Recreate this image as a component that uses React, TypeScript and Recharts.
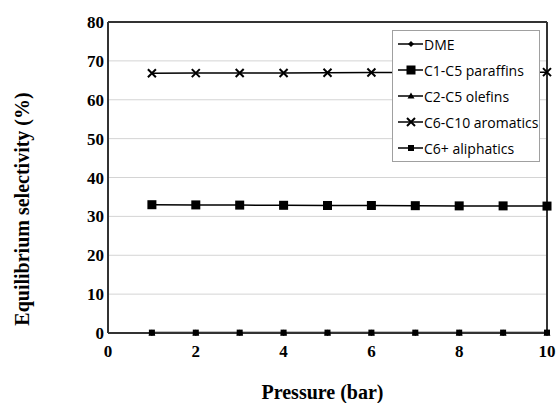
import React from 'react';
import { LineChart, Line, XAxis, YAxis, CartesianGrid, ReferenceLine } from 'recharts';

const pressure = [1, 2, 3, 4, 5, 6, 7, 8, 9, 10];
const dme = [0, 0, 0, 0, 0, 0, 0, 0, 0, 0];
const paraffins = [33.0, 32.95, 32.9, 32.85, 32.8, 32.8, 32.75, 32.7, 32.7, 32.65];
const olefins = [0, 0, 0, 0, 0, 0, 0, 0, 0, 0];
const aromatics = [66.8, 66.85, 66.9, 66.9, 66.95, 67.0, 67.0, 67.05, 67.1, 67.1];
const aliphatics = [0.1, 0.1, 0.1, 0.1, 0.1, 0.1, 0.1, 0.1, 0.1, 0.1];

const xTicks = [0, 2, 4, 6, 8, 10];
const yTicks = [0, 10, 20, 30, 40, 50, 60, 70, 80];

const data = pressure.map((p, i) => ({
  p,
  dme: dme[i],
  paraffins: paraffins[i],
  olefins: olefins[i],
  aromatics: aromatics[i],
  aliphatics: aliphatics[i],
}));

type Shape = 'diamond' | 'square' | 'triangle' | 'cross' | 'small';

const Marker = ({ shape, cx, cy }: { shape: Shape; cx: number; cy: number }) => {
  if (shape === 'square') return <rect x={cx - 4.5} y={cy - 4.5} width={9} height={9} fill="#000" />;
  if (shape === 'small') return <rect x={cx - 3} y={cy - 3} width={6} height={6} fill="#000" />;
  if (shape === 'diamond') return <path d={`M${cx} ${cy - 3}L${cx + 3} ${cy}L${cx} ${cy + 3}L${cx - 3} ${cy}Z`} fill="#000" />;
  if (shape === 'triangle') return <path d={`M${cx} ${cy - 3.5}L${cx + 3.5} ${cy + 2.5}L${cx - 3.5} ${cy + 2.5}Z`} fill="#000" />;
  return (
    <path
      d={`M${cx - 4} ${cy - 4}L${cx + 4} ${cy + 4}M${cx + 4} ${cy - 4}L${cx - 4} ${cy + 4}`}
      stroke="#000"
      strokeWidth={2}
    />
  );
};

const series: { key: string; name: string; shape: Shape }[] = [
  { key: 'dme', name: 'DME', shape: 'diamond' },
  { key: 'paraffins', name: 'C1-C5 paraffins', shape: 'square' },
  { key: 'olefins', name: 'C2-C5 olefins', shape: 'triangle' },
  { key: 'aromatics', name: 'C6-C10 aromatics', shape: 'cross' },
  { key: 'aliphatics', name: 'C6+ aliphatics', shape: 'small' },
];

const LegendBox = () => (
  <div
    style={{
      position: 'absolute',
      left: 392,
      top: 30,
      background: '#fff',
      border: '1px solid #a0a0a0',
      width: 148,
      height: 132,
      boxSizing: 'border-box',
      padding: '0 0 0 4px',
      fontFamily: '"Open Sans", sans-serif',
      fontSize: 14,
      color: '#000',
    }}
  >
    {series.map((s) => (
      <div key={s.key} style={{ display: 'flex', alignItems: 'center', height: 26 }}>
        <svg width={26} height={14} style={{ marginRight: 1 }}>
          <line x1={1} y1={7} x2={26} y2={7} stroke="#000" strokeWidth={1.5} />
          <Marker shape={s.shape} cx={14} cy={7} />
        </svg>
        <span>{s.name}</span>
      </div>
    ))}
  </div>
);

const serif = '"Liberation Serif", serif';
const tickStyle = { fontFamily: serif, fontWeight: 'bold', fontSize: 17, fill: '#000' };
const titleStyle = { fontFamily: serif, fontWeight: 'bold', fontSize: 20, fill: '#000' };
const frame = '#333';

// y title sits a bit below the plot's middle in the reference
const YTitle = () => (
  <text x={29} y={209} transform="rotate(-90, 29, 209)" textAnchor="middle" style={titleStyle}>
    Equilibrium selectivity (%)
  </text>
);

export default function App() {
  return (
    <div style={{ position: 'fixed', left: 0, top: 0, width: 557, height: 403, background: '#fff' }}>
      <LineChart width={557} height={403} data={data} margin={{ top: 22, right: 10, bottom: 4, left: 38 }}>
        <CartesianGrid vertical={false} stroke="#d4d4d4" />
        <XAxis
          dataKey="p"
          type="number"
          domain={[0, 10]}
          ticks={xTicks}
          tickLine={false}
          tickSize={0}
          tickMargin={12}
          tick={tickStyle}
          axisLine={{ stroke: frame, strokeWidth: 2 }}
          height={66}
          label={{ value: 'Pressure (bar)', position: 'insideBottom', offset: 0, dx: -5, style: titleStyle }}
        />
        <YAxis
          type="number"
          domain={[0, 80]}
          ticks={yTicks}
          tickLine={false}
          tickSize={0}
          tickMargin={4}
          tick={tickStyle}
          axisLine={{ stroke: frame, strokeWidth: 2 }}
          width={70}
          label={{ content: () => <YTitle /> }}
        />
        <ReferenceLine y={80} stroke={frame} strokeWidth={2} />
        <ReferenceLine x={10} stroke={frame} strokeWidth={2} />
        {series.map((s) => (
          <Line
            key={s.key}
            dataKey={s.key}
            name={s.name}
            stroke="#000"
            strokeWidth={1.5}
            isAnimationActive={false}
            dot={(props: any) => <Marker key={`${s.key}-${props.index}`} shape={s.shape} cx={props.cx} cy={props.cy} />}
          />
        ))}
      </LineChart>
      <LegendBox />
    </div>
  );
}
